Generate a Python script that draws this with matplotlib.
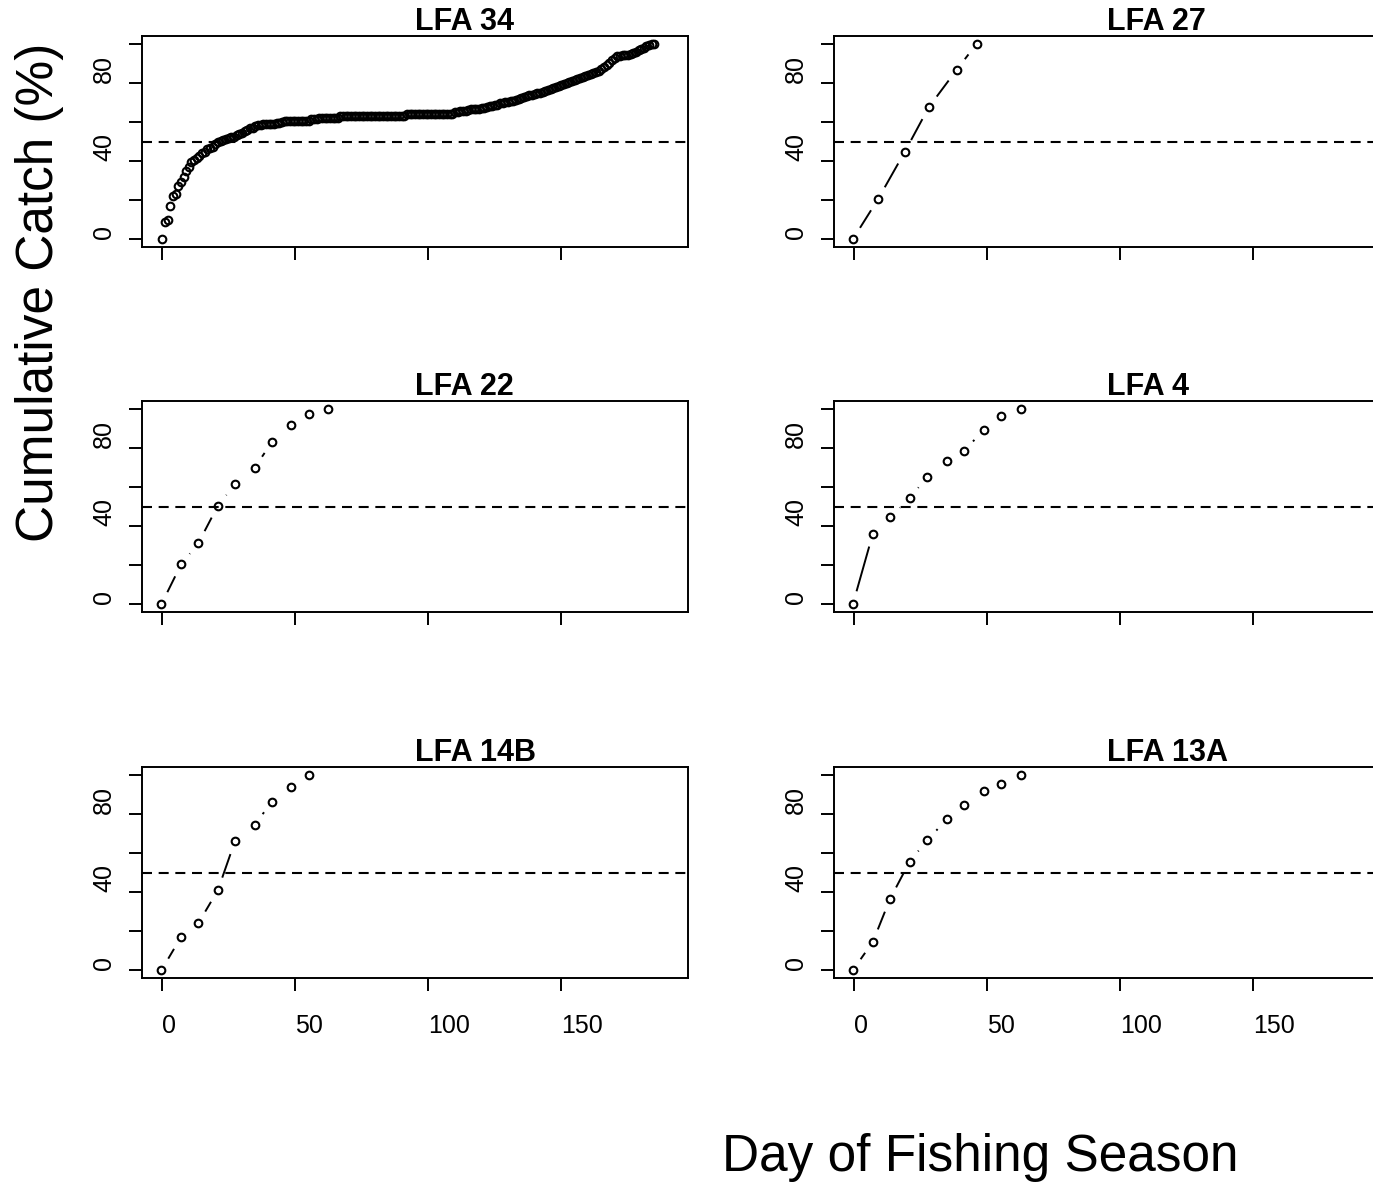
import numpy as np
import matplotlib.pyplot as plt

plt.rcParams['font.family'] = ['Liberation Sans', 'DejaVu Sans']
plt.rcParams['lines.scale_dashes'] = False

# LFA 34: one point per day of season
days_34 = list(range(0, 186))
catch_34 = [
    0, 8.6, 9.8, 16.8, 22.0, 23.2, 27.3, 29.2, 31.6, 35.0,
    36.7, 39.3, 40.5, 41.8, 42.7, 43.9, 44.5, 46.1, 46.6, 47.0,
    48.8, 49.5, 50.3, 50.7, 51.4, 51.7, 52.2, 52.5, 53.2, 53.7,
    54.6, 55.4, 56.1, 56.7, 57.1, 57.8, 58.3, 58.6, 58.9, 59.1,
    59.1, 59.2, 59.2, 59.3, 59.4, 60.2, 60.3, 60.3, 60.4, 60.4,
    60.5, 60.5, 60.5, 60.6, 60.6, 60.7, 61.6, 61.7, 61.7, 61.8,
    61.8, 61.8, 61.9, 61.9, 61.9, 62.0, 62.0, 62.8, 62.8, 62.8,
    62.8, 62.8, 62.8, 62.9, 62.9, 62.9, 62.9, 62.9, 62.9, 62.9,
    62.9, 63.0, 63.0, 63.0, 63.0, 63.0, 63.0, 63.0, 63.0, 63.1,
    63.1, 63.1, 64.0, 64.0, 64.0, 64.0, 64.1, 64.1, 64.1, 64.1,
    64.1, 64.1, 64.1, 64.2, 64.2, 64.2, 64.2, 64.2, 64.3, 64.3,
    65.2, 65.3, 65.4, 65.5, 65.6, 66.3, 66.5, 66.6, 66.7, 66.8,
    66.9, 67.0, 67.8, 68.1, 68.4, 68.6, 68.8, 69.6, 69.9, 70.2,
    70.4, 70.6, 70.9, 71.3, 71.8, 72.2, 72.9, 73.3, 73.6, 73.9,
    74.3, 74.6, 75.0, 75.4, 76.0, 76.5, 76.9, 77.3, 77.7, 78.2,
    78.7, 79.2, 79.8, 80.5, 81.0, 81.4, 81.8, 82.3, 82.9, 83.4,
    84.0, 84.6, 85.1, 85.7, 86.3, 87.2, 88.2, 89.3, 90.4, 91.5,
    92.6, 93.6, 93.9, 94.1, 94.3, 94.5, 94.7, 95.2, 96.0, 96.8,
    97.4, 97.9, 98.7, 99.3, 99.7, 100.0,
]

days_27 = [-0.5, 9, 19, 28, 38.5, 46]
catch_27 = [0, 20.6, 44.7, 67.5, 86.7, 100]

days_22 = [-0.3, 7.1, 13.6, 20.9, 27.3, 34.7, 41.3, 48.4, 55.0, 62.4]
catch_22 = [0, 20.4, 31.3, 50.4, 61.3, 69.8, 83.1, 91.6, 97.6, 100]

days_4 = [-0.5, 7.0, 13.4, 20.8, 27.4, 34.8, 41.2, 48.6, 55.2, 62.7]
catch_4 = [0, 36.1, 44.6, 54.2, 65.1, 73.4, 78.3, 89.1, 96.4, 100]

days_14b = [-0.3, 7.0, 13.6, 20.9, 27.3, 34.7, 41.3, 48.4, 55.0]
catch_14b = [0, 16.8, 24.1, 40.9, 65.9, 74.4, 86.3, 93.6, 100]

days_13a = [-0.5, 7.0, 13.4, 20.8, 27.4, 34.8, 41.2, 48.6, 55.2, 62.7]
catch_13a = [0, 14.5, 36.3, 55.5, 66.5, 77.2, 84.5, 91.7, 95.2, 100]

titles = ["LFA 34", "LFA 27", "LFA 22", "LFA 4", "LFA 14B", "LFA 13A"]
xs = [days_34, days_27, days_22, days_4, days_14b, days_13a]
ys = [catch_34, catch_27, catch_22, catch_4, catch_14b, catch_13a]

x_ticks = [0, 50, 100, 150]
y_ticks = [0, 20, 40, 60, 80, 100]
y_ticklabels = ['0', '', '40', '', '80', '']

W, H = 1373, 1187
fig = plt.figure(figsize=(W / 100, H / 100), dpi=100)

col_x = [142, 834]
row_y = [36, 401, 767]
box_w, box_h = 546, 211


def draw_b(ax, x, y, gap=13.4):
    # R style type="b": points joined by segments that stop short of each point
    pts = ax.transData.transform(np.column_stack([x, y]))
    inv = ax.transData.inverted()
    for p, q in zip(pts[:-1], pts[1:]):
        d = q - p
        length = np.hypot(d[0], d[1])
        if length <= 2 * gap:
            continue
        u = d / length
        a = inv.transform(p + u * gap)
        b = inv.transform(q - u * gap)
        ax.plot([a[0], b[0]], [a[1], b[1]], color='black', lw=1.4,
                solid_capstyle='butt')
    ax.plot(x, y, 'o', mfc='none', mec='black', ms=5.5, mew=1.5)


for i in range(6):
    r, c = divmod(i, 2)
    left = col_x[c] / W
    bottom = 1 - (row_y[r] + box_h) / H
    ax = fig.add_axes([left, bottom, box_w / W, box_h / H])
    ax.set_xlim(-7.6, 197.6)
    ax.set_ylim(-4, 104)

    ax.axhline(50, color='black', lw=1.5, ls=(0, (7.2, 4.8)))
    draw_b(ax, xs[i], ys[i])

    ax.set_xticks(x_ticks)
    if r == 2:
        ax.set_xticklabels([str(t) for t in x_ticks], ha='left')
    else:
        ax.set_xticklabels([])
    ax.set_yticks(y_ticks)
    ax.set_yticklabels(y_ticklabels)
    plt.setp(ax.get_yticklabels(), rotation=90, va='bottom')
    ax.tick_params(axis='both', direction='out', length=9.7, width=1.4,
                   labelsize=18, color='black')
    ax.tick_params(axis='x', pad=16)
    ax.tick_params(axis='y', pad=9)
    for s in ax.spines.values():
        s.set_linewidth(1.4)

    ax.text(0.5, 1.028, titles[i], transform=ax.transAxes, ha='left',
            va='baseline', fontsize=22, fontweight='bold')

fig.text(40 / W, 1 - 292 / H, 'Cumulative Catch (%)', rotation=90,
         ha='center', va='center', fontsize=37)
fig.text(980 / W, 1 - 1158 / H, 'Day of Fishing Season',
         ha='center', va='center', fontsize=37)

fig.savefig('out.png', dpi=100)
